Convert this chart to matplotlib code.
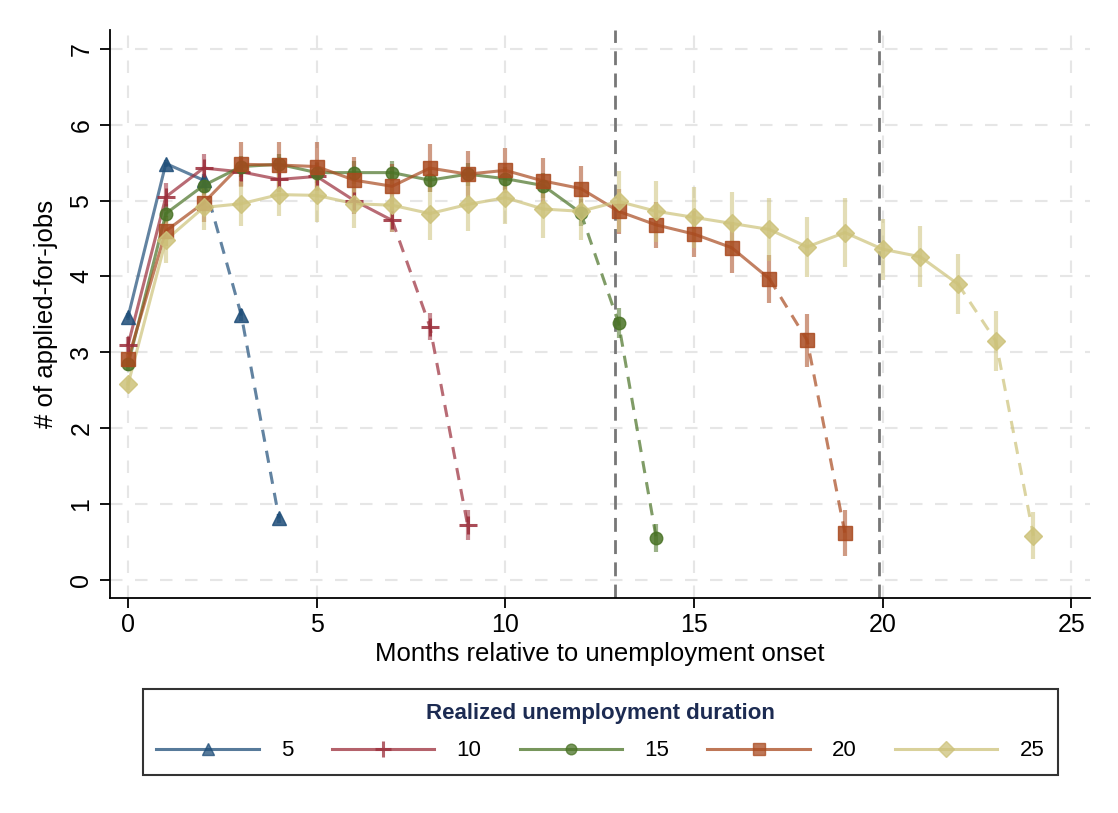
import matplotlib
matplotlib.use('Agg')
import matplotlib.pyplot as plt
import numpy as np

plt.rcParams['font.family'] = ['Liberation Sans', 'DejaVu Sans']

# Realized unemployment duration groups
durations = ['5', '10', '15', '20', '25']
colors = ['#1f4e79', '#9b2d3a', '#4a7326', '#a94a1f', '#cdc27a']
markers = ['^', '+', 'o', 's', 'D']

# mean number of applied-for jobs by month since onset
y5 = [3.47, 5.49, 5.27, 3.49, 0.81]
e5 = [0.05, 0.05, 0.08, 0.08, 0.06]
y10 = [3.10, 5.05, 5.43, 5.38, 5.28, 5.32, 5.00, 4.74, 3.34, 0.72]
e10 = [0.10, 0.18, 0.18, 0.18, 0.16, 0.18, 0.18, 0.15, 0.18, 0.20]
y15 = [2.84, 4.83, 5.20, 5.45, 5.48, 5.37, 5.37, 5.37, 5.27, 5.35, 5.29, 5.20, 4.84, 3.39, 0.55]
e15 = [0.08, 0.12, 0.12, 0.14, 0.14, 0.14, 0.15, 0.15, 0.15, 0.15, 0.15, 0.16, 0.18, 0.20, 0.18]
y20 = [2.91, 4.60, 4.97, 5.48, 5.47, 5.45, 5.27, 5.19, 5.43, 5.35, 5.40, 5.26, 5.16, 4.86, 4.68,
       4.56, 4.38, 3.97, 3.16, 0.62]
e20 = [0.08, 0.20, 0.25, 0.30, 0.30, 0.32, 0.30, 0.30, 0.32, 0.30, 0.30, 0.30, 0.30, 0.30, 0.30,
       0.30, 0.34, 0.32, 0.35, 0.30]
y25 = [2.58, 4.48, 4.91, 4.96, 5.08, 5.07, 4.96, 4.94, 4.83, 4.95, 5.04, 4.89, 4.86, 4.99, 4.86,
       4.78, 4.70, 4.62, 4.39, 4.58, 4.36, 4.26, 3.90, 3.15, 0.58]
e25 = [0.08, 0.30, 0.30, 0.30, 0.28, 0.35, 0.32, 0.35, 0.35, 0.35, 0.35, 0.38, 0.38, 0.40, 0.40,
       0.40, 0.42, 0.42, 0.40, 0.45, 0.40, 0.40, 0.40, 0.39, 0.31]

series = [(y5, e5), (y10, e10), (y15, e15), (y20, e20), (y25, e25)]
cutoffs = [12.9, 19.9]

fig = plt.figure(figsize=(11.18, 8.13), dpi=100)
ax = fig.add_axes([0.0984, 0.2645, 0.8766, 0.6985])

handles = []
for (yv, ev), c, m, lab in zip(series, colors, markers, durations):
    x = np.arange(len(yv))
    yv = np.array(yv)
    ms = {'^': 10, '+': 13, 'o': 9, 's': 9.5, 'D': 9}[m]
    mew = 2.2 if m == '+' else 1
    # error bars
    ax.vlines(x, yv - np.array(ev), yv + np.array(ev), colors=c, alpha=0.55, lw=3, zorder=2)
    # solid up to third-to-last point, dashed for the last two
    ax.plot(x[:-2], yv[:-2], color=c, lw=2.2, alpha=0.7, zorder=3)
    ax.plot(x[-3:], yv[-3:], color=c, lw=2.2, alpha=0.7, ls=(0, (4, 3)), zorder=3)
    ax.plot(x, yv, ls='none', marker=m, color=c, ms=ms, mew=mew, alpha=0.85, zorder=4)
    h, = ax.plot([], [], color=c, lw=2.2, alpha=0.75, marker=m, ms=ms * 0.85, mew=mew,
                 markeredgecolor=c, markerfacecolor=c)
    handles.append(h)

for xc in cutoffs:
    ax.axvline(xc, color='#777777', lw=2, ls=(0, (5, 3)), zorder=1)

ax.set_xlim(-0.48, 25.5)
ax.set_ylim(-0.24, 7.25)
ax.set_xticks([0, 5, 10, 15, 20, 25])
ax.set_yticks(range(8))
ax.grid(True, color='#e6e6e6', lw=1.5, ls=(0, (6, 6)), zorder=0)
ax.set_axisbelow(True)
for s in ['top', 'right']:
    ax.spines[s].set_visible(False)
for s in ['left', 'bottom']:
    ax.spines[s].set_linewidth(1.3)
ax.tick_params(axis='both', labelsize=18, length=7, width=1.3)
ax.tick_params(axis='y', pad=5)
for t in ax.get_yticklabels():
    t.set_rotation(90)
    t.set_va('center')

ax.set_xlabel('Months relative to unemployment onset', fontsize=18.5, labelpad=4)
ax.set_ylabel('# of applied-for-jobs', fontsize=18.5, labelpad=8)

leg = fig.legend(handles, durations, loc='lower left', ncol=5, mode='expand',
                 bbox_to_anchor=(0.128, 0.047, 0.818, 0.107), fontsize=16,
                 title='Realized unemployment duration', frameon=True, fancybox=False,
                 handlelength=4.6, handletextpad=1.0, columnspacing=1.5, borderaxespad=0.0,
                 borderpad=0.6)
leg.get_title().set_fontweight('bold')
leg.get_title().set_fontsize(16)
leg.get_title().set_color('#1c2b52')
leg._legend_box.sep = 12
leg.get_frame().set_edgecolor('black')
leg.get_frame().set_linewidth(1.5)

fig.savefig('out.png', dpi=100)
